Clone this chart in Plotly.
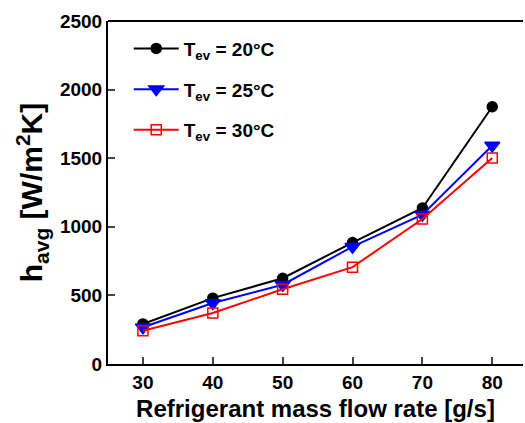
import plotly.graph_objects as go

flow = [30, 40, 50, 60, 70, 80]
h_20 = [292, 480, 625, 885, 1137, 1875]
h_25 = [268, 445, 578, 855, 1088, 1592]
h_30 = [243, 372, 545, 706, 1057, 1502]

names = ["T<sub>ev</sub> = 20°C", "T<sub>ev</sub> = 25°C", "T<sub>ev</sub> = 30°C"]
colors = ["black", "blue", "red"]
symbols = ["circle", "triangle-down", "square-open"]
sizes = [10, 13, 10]
series = [h_20, h_25, h_30]

font = "Liberation Sans, Arial"

fig = go.Figure()
for i, ys in enumerate(series):
    fig.add_trace(go.Scatter(
        x=flow, y=ys, name=names[i], mode="lines+markers",
        line=dict(color=colors[i], width=2),
        marker=dict(symbol=symbols[i], size=sizes[i], color=colors[i],
                    line=dict(color=colors[i], width=1.5)),
        legendgroup=str(i),
    ))

fig.update_layout(
    width=525, height=423,
    margin=dict(l=108, r=2, t=21, b=59),
    paper_bgcolor="white", plot_bgcolor="white",
    font=dict(family=font, size=19, color="black", weight="bold"),
    showlegend=True,
    legend=dict(x=0.05, y=0.975, xanchor="left", yanchor="top",
                bgcolor="rgba(0,0,0,0)", tracegroupgap=13,
                font=dict(size=19, family=font, weight="bold"),
                itemwidth=45),
    xaxis=dict(range=[25, 84.4], tickvals=flow, ticks="inside", ticklen=7,
               tickwidth=2, showline=True, linewidth=2, linecolor="black",
               mirror=False, showgrid=False, zeroline=False,
               tickfont=dict(size=19, family=font, weight="bold"),
               title=dict(text="Refrigerant mass flow rate [g/s]",
                          font=dict(size=24, family=font, weight="bold"),
                          standoff=8)),
    yaxis=dict(range=[0, 2500], tickvals=[0, 500, 1000, 1500, 2000, 2500],
               ticks="inside", ticklen=7, tickwidth=2, showline=True,
               linewidth=2, linecolor="black", showgrid=False, zeroline=False,
               tickfont=dict(size=19, family=font, weight="bold"),
               title=dict(text="h<sub>avg</sub> [W/m<sup>2</sup>K]",
                          font=dict(size=30, family=font, weight="bold"),
                          standoff=8)),
)
# top border line
fig.add_shape(type="line", xref="paper", yref="paper", x0=0, x1=1, y0=1, y1=1,
              line=dict(color="black", width=2))

fig.write_html("out.html")
